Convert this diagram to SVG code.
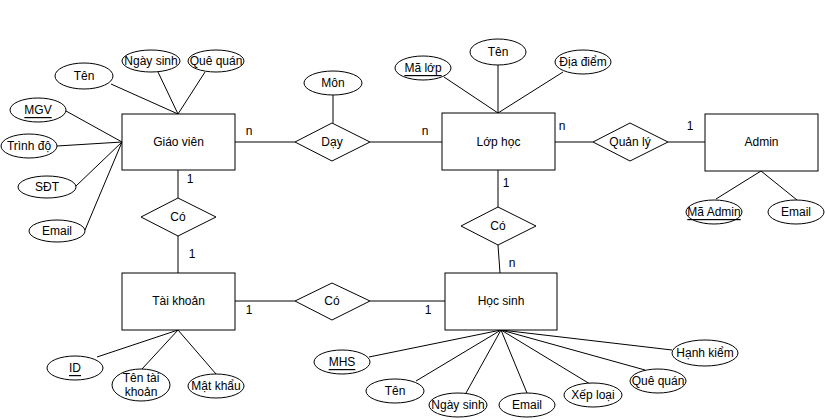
<svg xmlns="http://www.w3.org/2000/svg" width="825" height="420" viewBox="0 0 825 420">
<style>
.n{fill:#fff;stroke:#000;stroke-width:1}
line{stroke:#000;stroke-width:1}
text{font-family:"Liberation Sans",Arial,sans-serif;font-size:12px;fill:#000;text-anchor:middle;dominant-baseline:central}
.u{text-decoration:underline}
</style>
<rect width="825" height="420" fill="#fff"/>
<g id="connectors">
<line x1="111" y1="84" x2="178" y2="114"/>
<line x1="158" y1="72" x2="178" y2="114"/>
<line x1="205" y1="72" x2="178" y2="114"/>
<line x1="66" y1="111" x2="122" y2="142"/>
<line x1="57" y1="146" x2="122" y2="142"/>
<line x1="76" y1="186" x2="122" y2="142"/>
<line x1="85" y1="230" x2="122" y2="142"/>
<line x1="178" y1="170" x2="178" y2="198"/>
<line x1="178" y1="236" x2="178" y2="273"/>
<line x1="235" y1="301" x2="295" y2="301"/>
<line x1="370" y1="301" x2="445" y2="301"/>
<line x1="178" y1="330" x2="97" y2="357"/>
<line x1="178" y1="330" x2="142" y2="369"/>
<line x1="178" y1="330" x2="216" y2="374"/>
<line x1="501" y1="330" x2="369" y2="357"/>
<line x1="501" y1="330" x2="416" y2="381"/>
<line x1="501" y1="330" x2="466" y2="393"/>
<line x1="501" y1="330" x2="527" y2="393"/>
<line x1="501" y1="330" x2="590" y2="384"/>
<line x1="501" y1="330" x2="645" y2="370"/>
<line x1="501" y1="330" x2="672" y2="350"/>
<line x1="235" y1="142" x2="295" y2="142"/>
<line x1="370" y1="142" x2="442" y2="142"/>
<line x1="333" y1="95" x2="333" y2="123"/>
<line x1="444" y1="77" x2="498" y2="113"/>
<line x1="498" y1="65" x2="498" y2="113"/>
<line x1="563" y1="72" x2="498" y2="113"/>
<line x1="498" y1="170" x2="498" y2="207"/>
<line x1="498" y1="245" x2="500" y2="273"/>
<line x1="555" y1="142" x2="593" y2="142"/>
<line x1="668" y1="142" x2="705" y2="142"/>
<line x1="761" y1="171" x2="716" y2="199"/>
<line x1="761" y1="171" x2="797" y2="200"/>
<text x="249" y="131">n</text>
<text x="425" y="131">n</text>
<text x="190" y="179">1</text>
<text x="192" y="254">1</text>
<text x="249" y="310">1</text>
<text x="428" y="310">1</text>
<text x="506" y="183">1</text>
<text x="512" y="263">n</text>
<text x="562" y="126">n</text>
<text x="690" y="126">1</text>
</g>
<g id="giao-vien"><rect class="n" x="122" y="114" width="113" height="56"/><text x="178.5" y="142">Giáo viên</text></g>
<g id="gv-ten"><ellipse class="n" cx="84" cy="76" rx="29" ry="13"/><text x="84" y="76">Tên</text></g>
<g id="gv-ngaysinh"><ellipse class="n" cx="151" cy="61" rx="29" ry="11"/><text x="151" y="61">Ngày sinh</text></g>
<g id="gv-quequan"><ellipse class="n" cx="216" cy="61" rx="28" ry="11"/><text x="216" y="61">Quê quán</text></g>
<g id="gv-mgv"><ellipse class="n" cx="38" cy="110" rx="28" ry="12"/><text class="u" x="38" y="110">MGV</text></g>
<g id="gv-trinhdo"><ellipse class="n" cx="29" cy="146" rx="28" ry="12"/><text x="29" y="146">Trình độ</text></g>
<g id="gv-sdt"><ellipse class="n" cx="47" cy="187" rx="29" ry="11"/><text x="47" y="187">SĐT</text></g>
<g id="gv-email"><ellipse class="n" cx="57" cy="231" rx="28" ry="11"/><text x="57" y="231">Email</text></g>
<g id="co-gv-tk"><polygon class="n" points="178,198 216,217 178,236 141,217"/><text x="178" y="217">Có</text></g>
<g id="tai-khoan"><rect class="n" x="122" y="273" width="113" height="57"/><text x="178.5" y="301">Tài khoản</text></g>
<g id="tk-id"><ellipse class="n" cx="75" cy="368" rx="28" ry="12"/><text class="u" x="75" y="368">ID</text></g>
<g id="tk-ten"><ellipse class="n" cx="141" cy="385" rx="29" ry="16"/><text x="141" y="378">Tên tài</text><text x="141" y="392">khoản</text></g>
<g id="tk-matkhau"><ellipse class="n" cx="216" cy="386" rx="28" ry="12"/><text x="216" y="386">Mật khẩu</text></g>
<g id="co-tk-hs"><polygon class="n" points="332,283 370,301 332,320 295,301"/><text x="332" y="301">Có</text></g>
<g id="hoc-sinh"><rect class="n" x="445" y="273" width="112" height="57"/><text x="501" y="301">Học sinh</text></g>
<g id="hs-mhs"><ellipse class="n" cx="342" cy="362" rx="28" ry="12"/><text class="u" x="342" y="362">MHS</text></g>
<g id="hs-ten"><ellipse class="n" cx="395" cy="391" rx="29" ry="12"/><text x="395" y="391">Tên</text></g>
<g id="hs-ngaysinh"><ellipse class="n" cx="458" cy="405" rx="29" ry="12"/><text x="458" y="405">Ngày sinh</text></g>
<g id="hs-email"><ellipse class="n" cx="527" cy="405" rx="28" ry="12"/><text x="527" y="405">Email</text></g>
<g id="hs-xeploai"><ellipse class="n" cx="593" cy="395" rx="29" ry="12"/><text x="593" y="395">Xếp loại</text></g>
<g id="hs-quequan"><ellipse class="n" cx="658" cy="381" rx="28" ry="12"/><text x="658" y="381">Quê quán</text></g>
<g id="hs-hanhkiem"><ellipse class="n" cx="705" cy="353" rx="33" ry="13"/><text x="705" y="353">Hạnh kiểm</text></g>
<g id="day"><polygon class="n" points="332,123 370,142 332,161 295,142"/><text x="332" y="142">Dạy</text></g>
<g id="mon"><ellipse class="n" cx="333" cy="83" rx="29" ry="12"/><text x="333" y="83">Môn</text></g>
<g id="lop-hoc"><rect class="n" x="442" y="113" width="113" height="57"/><text x="498.5" y="142">Lớp học</text></g>
<g id="lh-malop"><ellipse class="n" cx="423" cy="68" rx="28" ry="12"/><text class="u" x="423" y="68">Mã lớp</text></g>
<g id="lh-ten"><ellipse class="n" cx="498" cy="52" rx="28" ry="13"/><text x="498" y="52">Tên</text></g>
<g id="lh-diadiem"><ellipse class="n" cx="583" cy="62" rx="28" ry="12"/><text x="583" y="62">Địa điểm</text></g>
<g id="co-lh-hs"><polygon class="n" points="498,207 536,226 498,245 461,226"/><text x="498" y="226">Có</text></g>
<g id="quan-ly"><polygon class="n" points="630,123 668,142 630,161 593,142"/><text x="630" y="142">Quản lý</text></g>
<g id="admin"><rect class="n" x="705" y="114" width="113" height="57"/><text x="761.5" y="142">Admin</text></g>
<g id="ad-ma"><ellipse class="n" cx="714" cy="212" rx="28" ry="12"/><text class="u" x="714" y="212">Mã Admin</text></g>
<g id="ad-email"><ellipse class="n" cx="796" cy="212" rx="28" ry="12"/><text x="796" y="212">Email</text></g>
</svg>
